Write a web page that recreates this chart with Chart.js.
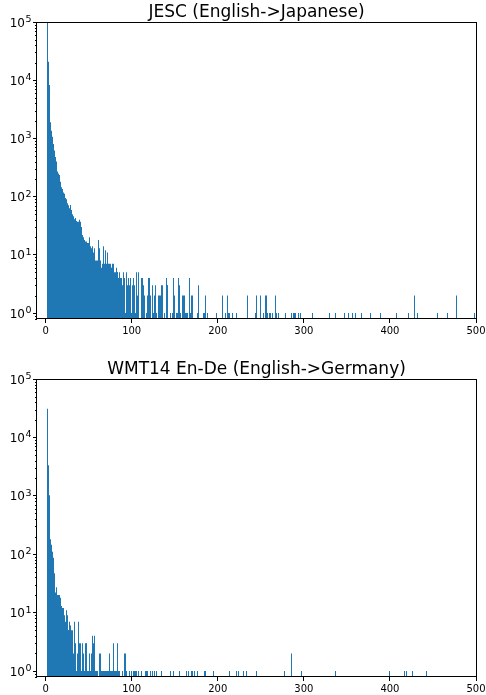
<!DOCTYPE html>
<html>
<head>
<meta charset="utf-8">
<script src="https://cdn.jsdelivr.net/npm/chart.js@4.4.1/dist/chart.umd.min.js"></script>
<style>
html, body { margin: 0; padding: 0; background: #fff; overflow: hidden; }
#wrap { position: relative; width: 486px; height: 695px; }
canvas { position: absolute; left: 0; }
#c1 { top: 0; }
#c2 { top: 347px; }
</style>
</head>
<body>
<div id="wrap">
  <canvas id="c1" width="486" height="347"></canvas>
  <canvas id="c2" width="486" height="348"></canvas>
</div>
<script>
// sentence length histograms, one bin per token count
var jescTitle = 'JESC (English->Japanese)';
var wmtTitle = 'WMT14 En-De (English->Germany)';

// dense part: counts for lengths 2, 3, 4, ...
var jescHeadStart = 2;
var jescHead = [100000, 20800, 8300, 2800, 1900, 1350, 1070, 800, 620, 480,
  400, 290, 270, 250, 235, 180, 145, 135, 125, 118,
  112, 95, 90, 77, 71, 66, 63, 72, 59, 50,
  46, 41, 40, 43, 38, 37, 37, 40, 37, 19,
  30, 22, 20, 18, 17, 14, 17, 16, 16, 20,
  14, 13, 14, 11, 9, 13, 8, 8, 8, 18,
  13, 9, 8, 6, 7, 14, 7, 7, 12, 7,
  11, 7, 7, 7, 6, 6, 7, 7, 5, 5,
  6, 5, 5, 4, 5, 4, 4, 3, 5, 4,
  4, 1, 5, 3, 4, 3, 3, 4, 1, 3,
  4, 3];
// sparse tail: length / count
var jescTailLen = [104, 105, 106, 107, 108, 111, 112, 113, 114, 115, 117, 118, 119, 120,
  121, 122, 124, 125, 126, 127, 128, 129, 131, 132, 133, 134, 135, 136, 138, 140, 141, 142,
  145, 147, 149, 150, 152, 153, 154, 155, 156, 157, 159, 160, 161, 162, 164, 165, 167, 168,
  169, 170, 176, 177, 178, 183, 184, 185, 186, 188, 198, 199, 206,
  209, 211, 212, 214, 217, 222, 234, 244, 245, 250, 253, 255, 257, 258, 260, 261, 264, 267,
  268, 270, 279, 285, 288, 289, 290, 294, 296, 310, 330, 337, 347, 352, 356, 360, 367, 377,
  389, 407, 421, 428, 432, 455, 467, 477, 498];
var jescTailCount = [1, 2, 5, 2, 5, 4, 4, 1, 3, 2, 1, 2, 3, 4,
  4, 2, 3, 1, 1, 2, 3, 1, 2, 2, 2, 3, 2, 3, 1, 4, 3, 3,
  1, 1, 4, 2, 1, 1, 4, 1, 3, 1, 2, 2, 2, 1, 1, 1, 4, 1,
  2, 2, 1, 3, 1, 1, 1, 1, 2, 1, 1, 1, 2,
  1, 2, 1, 1, 1, 1, 2, 1, 2, 2, 1, 2, 2, 1, 1, 1, 1, 2,
  1, 1, 1, 1, 1, 1, 1, 1, 1, 1, 1, 1, 1, 1, 1, 1, 1, 1,
  1, 1, 1, 2, 1, 1, 1, 2, 1];

var wmtHeadStart = 2;
var wmtHead = [31000, 3330, 1020, 260, 180, 145, 110, 87, 47, 22,
  27, 27, 20, 20, 20, 18, 13, 12, 7, 12,
  9, 7, 11, 9, 5, 5, 7, 6, 5, 5,
  2, 7, 1, 3, 1, 2, 7, 3, 2, 3,
  1, 3, 2, 1, 3, 3, 3, 1, 1, 2,
  1, 2, 4, 2, 3, 4, 1, 1, 1, 0,
  0, 2, 2, 1, 1, 1, 1, 1, 1, 1,
  1, 1, 2, 1, 1, 1, 1, 3, 1, 1,
  1, 2, 3, 1, 1, 0, 0, 1, 0, 0,
  2, 2, 1, 0, 0, 1, 0, 0, 1, 0,
  1, 1, 1, 1, 1, 0, 1, 0, 0, 1,
  0, 0, 0, 0, 1, 1, 1];
var wmtTailLen = [122, 124, 126, 127, 129, 134, 145, 148, 156, 164, 166, 169, 171, 173, 176,
  184, 186, 195, 213, 222, 224, 230, 233, 245, 277, 285, 297, 337, 399, 417, 419, 426, 442];
var wmtTailCount = [1, 1, 1, 1, 1, 1, 1, 1, 1, 1, 1, 1, 1, 1, 1,
  1, 1, 1, 1, 1, 1, 1, 1, 1, 1, 2, 1, 1, 1, 1, 1, 1, 1];

var xTickValues = [0, 100, 200, 300, 400, 500];
var yTickValues = [1, 10, 100, 1000, 10000, 100000];
var yTickBase = '10';
var yTickExp = ['0', '1', '2', '3', '4', '5'];

var BAR_COLOR = '#1f77b4';
Chart.defaults.font.family = "'DejaVu Sans', sans-serif";

function toPoints(headStart, head, tailLen, tailCount) {
  var pts = [];
  head.forEach(function(c, i) {
    if (c > 0) pts.push({ x: headStart + i, y: c });
  });
  tailLen.forEach(function(len, i) {
    pts.push({ x: len, y: tailCount[i] });
  });
  return pts;
}

// snap the thin bars onto whole pixel columns, like matplotlib does
var snapPlugin = {
  id: 'snap',
  beforeDatasetsDraw: function(chart) {
    chart.getDatasetMeta(0).data.forEach(function(el) {
      var l = Math.round(el.x - el.width / 2);
      var r = Math.round(el.x + el.width / 2);
      if (r <= l) r = l + 1;
      el.x = (l + r) / 2;
      el.width = r - l;
      el.options.inflateAmount = 0;
    });
  }
};

// frame, minor log ticks, power-of-ten labels and the title
function decorPlugin(title) {
  return {
    id: 'decor',
    afterDraw: function(chart) {
      var ctx = chart.ctx;
      var a = chart.chartArea;
      var y = chart.scales.y;
      ctx.save();
      ctx.strokeStyle = '#000';
      ctx.lineWidth = 1;
      ctx.beginPath();
      for (var d = -1; d < 5; d++) {
        for (var m = 2; m <= 9; m++) {
          var v = m * Math.pow(10, d);
          if (v < y.min || v > y.max) continue;
          var py = Math.round(y.getPixelForValue(v)) + 0.5;
          ctx.moveTo(a.left - 2, py);
          ctx.lineTo(a.left, py);
        }
      }
      ctx.stroke();
      ctx.strokeRect(Math.round(a.left) - 0.5, Math.round(a.top) + 0.5,
        Math.round(a.right - a.left) + 1, Math.round(a.bottom - a.top) - 1);

      ctx.fillStyle = '#000';
      yTickValues.forEach(function(v, i) {
        var py = y.getPixelForValue(v);
        ctx.font = "12px 'DejaVu Sans'";
        ctx.textAlign = 'right';
        ctx.textBaseline = 'middle';
        ctx.fillText(yTickBase, a.left - 12, py + 1.5);
        ctx.font = "9.5px 'DejaVu Sans'";
        ctx.textAlign = 'left';
        ctx.textBaseline = 'alphabetic';
        ctx.fillText(yTickExp[i], a.left - 11.5, py);
      });

      ctx.font = "17px 'DejaVu Sans'";
      ctx.textAlign = 'center';
      ctx.textBaseline = 'alphabetic';
      ctx.fillText(title, (a.left + a.right) / 2, a.top - 5);
      ctx.restore();
    }
  };
}

function makeChart(id, title, pts, padTop, xHeight) {
  return new Chart(document.getElementById(id), {
    type: 'bar',
    data: {
      datasets: [{
        data: pts,
        backgroundColor: BAR_COLOR,
        borderWidth: 0,
        inflateAmount: 0,
        barPercentage: 1,
        categoryPercentage: 1
      }]
    },
    options: {
      responsive: false,
      animation: false,
      devicePixelRatio: 1,
      layout: { padding: { top: padTop, right: 10, left: 0, bottom: 0 } },
      plugins: {
        legend: { display: false },
        tooltip: { enabled: false },
        title: { display: false }
      },
      scales: {
        x: {
          type: 'linear',
          min: -10,
          max: 500,
          offset: false,
          grid: { drawOnChartArea: false, offset: false, tickLength: 4, tickColor: '#000', color: '#000' },
          border: { display: false },
          ticks: { color: '#000', font: { size: 10 }, padding: 2, maxRotation: 0, autoSkip: false },
          afterBuildTicks: function(s) {
            s.ticks = xTickValues.map(function(v) { return { value: v }; });
          },
          afterFit: function(s) {
            s.height = xHeight;
            s.paddingLeft = 0;
            s.paddingRight = 0;
          }
        },
        y: {
          type: 'logarithmic',
          min: 0.79,
          max: 100000,
          grid: { drawOnChartArea: false, tickLength: 4, tickColor: '#000', color: '#000' },
          border: { display: false },
          ticks: {
            color: 'rgba(0,0,0,0)',
            font: { size: 12 },
            padding: 2,
            autoSkip: false,
            callback: function(v, i) { return yTickBase + yTickExp[i]; }
          },
          afterBuildTicks: function(s) {
            s.ticks = yTickValues.map(function(v) { return { value: v, major: true }; });
          },
          afterFit: function(s) {
            s.width = 37;
            s.paddingTop = 0;
            s.paddingBottom = 0;
          }
        }
      }
    },
    plugins: [snapPlugin, decorPlugin(title)]
  });
}

makeChart('c1', jescTitle, toPoints(jescHeadStart, jescHead, jescTailLen, jescTailCount), 22, 28);
makeChart('c2', wmtTitle, toPoints(wmtHeadStart, wmtHead, wmtTailLen, wmtTailCount), 32, 18);
</script>
</body>
</html>
